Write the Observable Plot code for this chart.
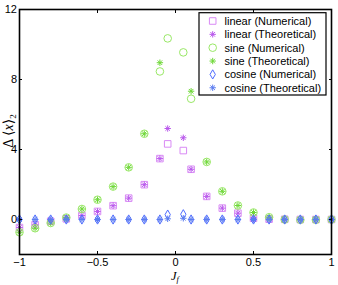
<!DOCTYPE html>
<html><head><meta charset="utf-8">
<script src="https://cdn.jsdelivr.net/npm/d3@7"></script>
<script src="https://cdn.jsdelivr.net/npm/@observablehq/plot@0.6"></script>
<style>body{margin:0;background:#fff}#chart{width:338px;height:285px}</style>
</head><body><div id="chart"></div>
<script>
// ---- data ----
const jf = [-1,-0.9,-0.8,-0.7,-0.6,-0.5,-0.4,-0.3,-0.2,-0.1,-0.05,0.05,0.1,0.2,0.3,0.4,0.5,0.6,0.7,0.8,0.9,1];
const linearNumerical   = [-0.46,-0.3,-0.1,0.04,0.23,0.46,0.79,1.22,1.99,3.48,4.32,3.94,2.87,1.32,0.65,0.36,0.07,0.02,0.01,0,0,0];
const linearTheoretical = [-0.46,-0.3,-0.1,0.04,0.23,0.46,0.79,1.22,1.99,3.48,5.2,4.67,2.87,1.32,0.65,0.36,0.09,0.02,0.01,0,0,0];
const sineNumerical     = [-0.73,-0.5,-0.2,0.11,0.6,1.13,1.88,2.98,4.9,8.46,10.35,9.55,6.9,3.29,1.61,0.8,0.4,0.13,0.0,-0.02,-0.02,0];
const sineTheoretical   = [-0.73,-0.5,-0.2,0.11,0.6,1.13,1.88,2.98,4.9,8.96,null,null,7.33,3.29,1.61,0.8,0.4,0.13,0.0,-0.02,-0.02,0];
const cosineNumerical   = [0,0,0,0,0,0,0,0,0,0,0.28,0.3,0,0,0,0,0,0,0,0,0,0];
const cosineTheoretical = [0,0,0,0,0,0,0,0,0,0,0.04,0.07,0,0,0,0,0,0,0,0,0,0];
const seriesNames = ["linear (Numerical)","linear (Theoretical)","sine (Numerical)","sine (Theoretical)","cosine (Numerical)","cosine (Theoretical)"];
const xTicks = [-1,-0.5,0,0.5,1];
const xTickLabels = ["\u22121","\u22120.5","0","0.5","1"];
const yTicks = [0,4,8,12];
const yTickLabels = ["0","4","8","12"];

// ---- styles ----
const asterisk8 = {draw(ctx, size){const r=Math.sqrt(size/Math.PI);const d=r*Math.SQRT1_2;
  ctx.moveTo(-r,0);ctx.lineTo(r,0);ctx.moveTo(0,-r);ctx.lineTo(0,r);
  ctx.moveTo(-d,-d);ctx.lineTo(d,d);ctx.moveTo(-d,d);ctx.lineTo(d,-d);}};
const seriesValues = [linearNumerical,linearTheoretical,sineNumerical,sineTheoretical,cosineNumerical,cosineTheoretical];
const seriesColors = ["#d98af5","#b957ec","#99e866","#6fd838","#4f6cff","#5b7cf0"];
const seriesSymbols = [d3.symbolSquare, asterisk8, d3.symbolCircle, asterisk8, d3.symbolDiamond, asterisk8];
const seriesR = [3.7,3.2,3.8,3.2,2.8,3.2];

const dotMarks = seriesValues.map((vals,i)=>Plot.dot(jf.map((x,j)=>({x, y: vals[j]})).filter(d=>d.y!=null), {
  x:"x", y:"y", symbol: seriesSymbols[i], r: seriesR[i], stroke: seriesColors[i], fill:"none", strokeWidth: 1
}));

function legendMark(index, scales, values, dims){
  const g = d3.create("svg:g").attr("text-anchor","start");
  const right = dims.width - dims.marginRight - 5;
  const w = 127, left = right - w, top = dims.marginTop + 3.7;
  g.append("rect").attr("x",left).attr("y",top).attr("width",w).attr("height",82.3)
    .attr("fill","white").attr("stroke","black").attr("stroke-width",1.2);
  seriesNames.forEach((name,i)=>{
    const cy = top + 8.3 + i*13.35;
    g.append("path").attr("transform",`translate(${left+13.7},${cy})`)
      .attr("d", d3.symbol(seriesSymbols[i], Math.PI*seriesR[i]*seriesR[i])())
      .attr("fill","none").attr("stroke",seriesColors[i]).attr("stroke-width",1);
    g.append("text").attr("x",left+25.5).attr("y",cy).attr("dy","0.36em")
      .attr("text-anchor","start").attr("fill","black").style("font-size","11px").text(name);
  });
  return g.node();
}
function labelMark(index, scales, values, dims){
  const g = d3.create("svg:g").attr("fill","black").style("font-family","'Liberation Serif','DejaVu Serif',serif");
  const cx = dims.marginLeft + (dims.width - dims.marginLeft - dims.marginRight)/2;
  const xt = g.append("text").attr("x",cx).attr("y",dims.height-5).attr("text-anchor","middle").style("font-size","12.5px");
  xt.append("tspan").style("font-style","italic").text("J");
  xt.append("tspan").style("font-style","italic").style("font-size","8.5px").attr("dy","2").text("f");
  const yt = g.append("text").attr("transform",`translate(12.5,131) rotate(-90)`).attr("text-anchor","middle").style("font-size","14px");
  yt.append("tspan").text("\u0394\u2009\u27E8");
  yt.append("tspan").style("font-style","italic").text("x");
  yt.append("tspan").text("\u27E9");
  yt.append("tspan").style("font-size","9px").attr("dy","3").text("2");
  return g.node();
}

const chart = Plot.plot({
  width: 338, height: 285,
  marginLeft: 19, marginRight: 7, marginTop: 9, marginBottom: 31,
  style: {fontFamily: "'Liberation Sans', Arial, sans-serif", fontSize: "11px", color: "black", background: "white"},
  x: {domain: [-1,1]},
  y: {domain: [-2,12]},
  marks: [
    ...dotMarks,
    Plot.axisX({anchor:"bottom", ticks: xTicks, tickSize: -3, tickPadding: 7, tickFormat: (d,i)=>xTickLabels[i], label: null, fontSize: 11}),
    Plot.axisX({anchor:"top", ticks: xTicks, tickSize: -3, tickFormat: () => "", label: null}),
    Plot.axisY({anchor:"left", ticks: yTicks, tickSize: -3, tickPadding: 5.5, tickFormat: (d,i)=>yTickLabels[i], label: null, fontSize: 11}),
    Plot.axisY({anchor:"right", ticks: yTicks, tickSize: -3, tickFormat: () => "", label: null}),
    Plot.frame({stroke:"black", strokeWidth: 1.6}),
    legendMark,
    labelMark
  ]
});
document.getElementById("chart").appendChild(chart);
</script>
</body></html>
